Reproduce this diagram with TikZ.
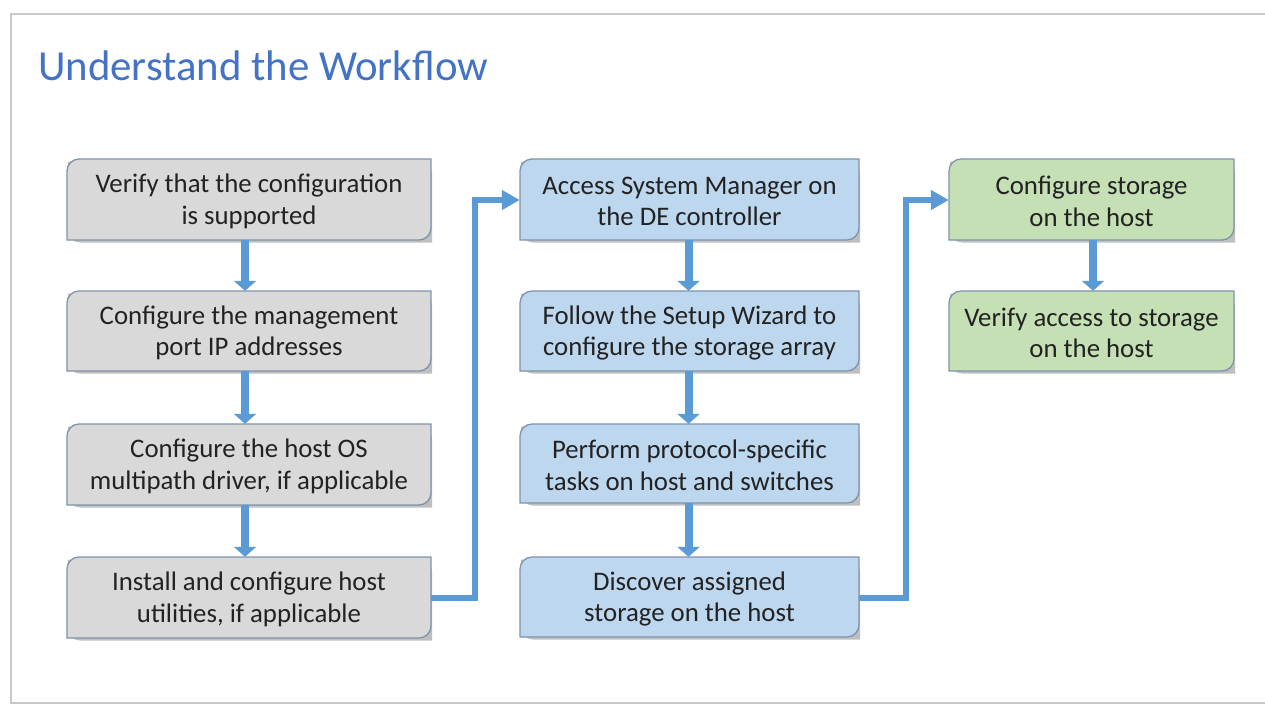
\documentclass[tikz,border=0pt]{standalone}
\usepackage{fontspec}
\setmainfont{Carlito}
\usetikzlibrary{arrows.meta}
\definecolor{titleblue}{HTML}{4472C4}
\definecolor{txt}{HTML}{222222}
\definecolor{edge}{HTML}{7F93AD}
\definecolor{grayfill}{HTML}{D9D9D9}
\definecolor{bluefill}{HTML}{BDD7EE}
\definecolor{greenfill}{HTML}{C5E0B4}
\definecolor{arrowblue}{HTML}{5B9BD5}
\definecolor{framegray}{HTML}{C8C8C8}
\tikzset{
  boxtext/.style={inner sep=0pt, align=center, text=txt,
    font=\fontsize{26.8}{31.5}\selectfont},
  flowarrow/.style={draw=arrowblue, line width=8pt,
    -{Triangle[width=22pt,length=10pt]}},
  elbowarrow/.style={draw=arrowblue, line width=6pt,
    -{Triangle[width=19pt,length=18pt]}},
}
% \snipbox{name}{x1}{y1}{x2}{y2}{fill}{text}
\newcommand{\snipbox}[7]{%
  \fill[black!25] ([xshift=1pt,yshift=-2.5pt]#2,#3)
     [rounded corners=12pt] -- ([xshift=1pt,yshift=-2.5pt]#2,#5) [sharp corners] -- ([xshift=1pt,yshift=-2.5pt]#4,#5)
     [rounded corners=12pt] -- ([xshift=1pt,yshift=-2.5pt]#4,#3) [sharp corners] -- ([xshift=1pt,yshift=-2.5pt]#2,#3) -- cycle;
  \filldraw[fill=#6, draw=edge, line width=1.3pt]
     (#2,#5) [rounded corners=12pt] -- (#2,#3) [sharp corners] -- (#4,#3)
     [rounded corners=12pt] -- (#4,#5) [sharp corners] -- (#2,#5) -- cycle;
  \node[boxtext, minimum width={#4pt-#2pt}, minimum height={#5pt-#3pt}]
     (#1) at ({(#2+#4)/2},{(#3+#5)/2+2}) {#7};
}
\begin{document}
\begin{tikzpicture}[x=1pt,y=-1pt]
\useasboundingbox (0,0) rectangle (1265,705);
\fill[white] (0,0) rectangle (1265,705);
% slide frame
\draw[framegray, line width=2pt] (1265,14) -- (11,14) -- (11,703) -- (1265,703);
\node[anchor=base west, inner sep=0pt, text=titleblue,
  font=\fontsize{42.8}{50}\selectfont] (title) at (38,80) {Understand the Workflow};

% gray column
\snipbox{g1}{67}{159}{431}{240}{grayfill}{Verify that the configuration\\is supported}
\snipbox{g2}{67}{291}{431}{371}{grayfill}{Configure the management\\port IP addresses}
\snipbox{g3}{67}{424}{431}{505}{grayfill}{Configure the host OS\\multipath driver, if applicable}
\snipbox{g4}{67}{557}{431}{638}{grayfill}{Install and configure host\\utilities, if applicable}
% blue column
\snipbox{b1}{520}{159}{859}{240}{bluefill}{Access System Manager on\\the DE controller}
\snipbox{b2}{520}{291}{859}{371}{bluefill}{Follow the Setup Wizard to\\configure the storage array}
\snipbox{b3}{520}{424}{859}{503}{bluefill}{Perform protocol-specific\\tasks on host and switches}
\snipbox{b4}{520}{557}{859}{637}{bluefill}{Discover assigned\\storage on the host}
% green column
\snipbox{v1}{949}{159}{1234}{240}{greenfill}{Configure storage\\on the host}
\snipbox{v2}{949}{291}{1234}{371}{greenfill}{Verify access to storage\\on the host}

% vertical arrows
\draw[flowarrow] ([xshift=-4pt,yshift=2pt]g1.south) -- ([xshift=-4pt,yshift=2pt]g2.north);
\draw[flowarrow] ([xshift=-4pt,yshift=2pt]g2.south) -- ([xshift=-4pt,yshift=2pt]g3.north);
\draw[flowarrow] ([xshift=-4pt,yshift=2pt]g3.south) -- ([xshift=-4pt,yshift=2pt]g4.north);
\draw[flowarrow] ([xshift=-1pt,yshift=2pt]b1.south) -- ([xshift=-1pt,yshift=2pt]b2.north);
\draw[flowarrow] ([xshift=-1pt,yshift=2pt]b2.south) -- ([xshift=-1pt,yshift=2pt]b3.north);
\draw[flowarrow] ([xshift=-1pt,yshift=2pt]b3.south) -- ([xshift=-1pt,yshift=2pt]b4.north);
\draw[flowarrow] ([xshift=1.5pt,yshift=2pt]v1.south) -- ([xshift=1.5pt,yshift=2pt]v2.north);

% elbow connectors
\coordinate (e1a) at (475,598);
\coordinate (e1b) at (475,200);
\draw[elbowarrow] (g4.east |- e1a) -- (e1a) -- (e1b) -- (b1.west |- e1b);
\coordinate (e2a) at (906,598);
\coordinate (e2b) at (906,200);
\draw[elbowarrow] (b4.east |- e2a) -- (e2a) -- (e2b) -- (v1.west |- e2b);
\end{tikzpicture}
\end{document}
